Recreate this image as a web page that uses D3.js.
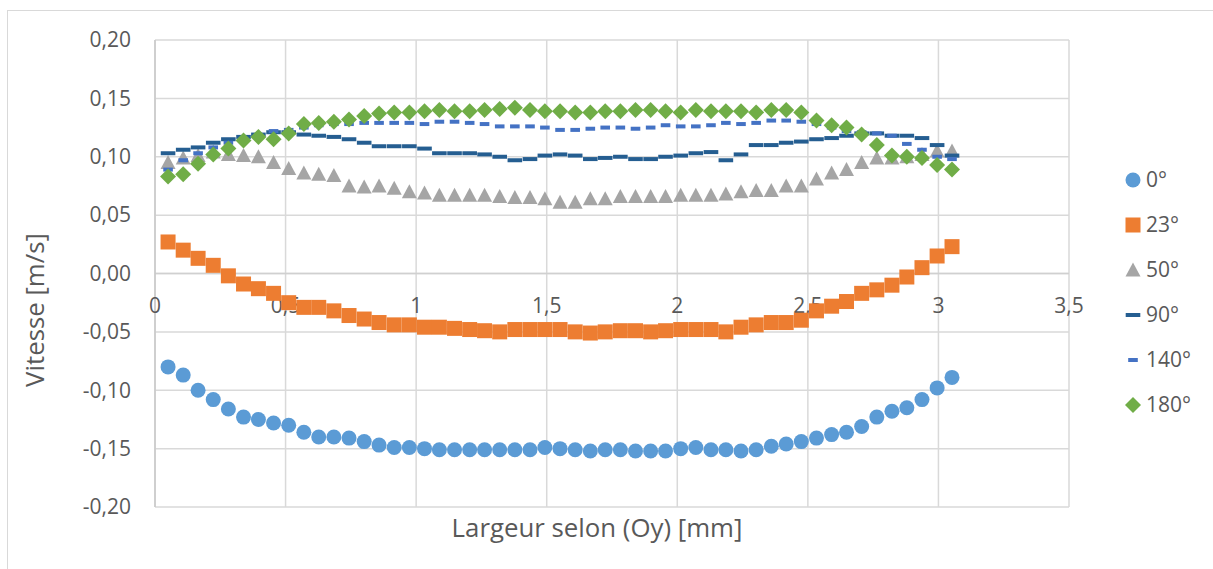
<!DOCTYPE html>
<html><head><meta charset="utf-8">
<script src="https://cdn.jsdelivr.net/npm/d3@7"></script>
<style>
html,body{margin:0;padding:0;background:#fff;}
svg{display:block;font-family:"Open Sans",sans-serif;}
</style></head>
<body>
<svg id="chart" width="1213" height="569"></svg>
<script>
// ---- data ----
const xValues = [0.050,0.108,0.165,0.223,0.281,0.339,0.396,0.454,0.512,0.570,0.627,0.685,0.743,0.801,0.858,0.916,0.974,1.032,1.089,1.147,1.205,1.262,1.320,1.378,1.436,1.493,1.551,1.609,1.667,1.724,1.782,1.840,1.898,1.955,2.013,2.071,2.129,2.186,2.244,2.302,2.360,2.417,2.475,2.533,2.591,2.648,2.706,2.764,2.822,2.879,2.937,2.995,3.052];
const s0 = [-0.080,-0.087,-0.100,-0.108,-0.116,-0.123,-0.125,-0.128,-0.130,-0.136,-0.140,-0.140,-0.141,-0.144,-0.147,-0.149,-0.149,-0.150,-0.151,-0.151,-0.151,-0.151,-0.151,-0.151,-0.151,-0.149,-0.150,-0.151,-0.152,-0.151,-0.151,-0.152,-0.152,-0.152,-0.150,-0.149,-0.151,-0.151,-0.152,-0.151,-0.148,-0.146,-0.144,-0.141,-0.138,-0.136,-0.131,-0.123,-0.118,-0.115,-0.108,-0.098,-0.089];
const s23 = [0.027,0.020,0.013,0.007,-0.002,-0.009,-0.013,-0.017,-0.025,-0.029,-0.029,-0.032,-0.036,-0.039,-0.042,-0.044,-0.044,-0.046,-0.046,-0.047,-0.048,-0.049,-0.050,-0.048,-0.048,-0.048,-0.048,-0.050,-0.051,-0.050,-0.049,-0.049,-0.050,-0.049,-0.048,-0.048,-0.048,-0.050,-0.046,-0.044,-0.042,-0.042,-0.040,-0.032,-0.028,-0.024,-0.017,-0.014,-0.010,-0.003,0.005,0.015,0.023];
const s50 = [0.095,0.099,0.101,0.104,0.102,0.101,0.100,0.095,0.090,0.086,0.085,0.084,0.075,0.074,0.075,0.073,0.070,0.069,0.067,0.067,0.067,0.067,0.066,0.065,0.065,0.064,0.061,0.061,0.064,0.064,0.066,0.066,0.066,0.066,0.067,0.067,0.067,0.068,0.070,0.071,0.071,0.075,0.075,0.081,0.086,0.089,0.095,0.099,0.099,0.100,0.102,0.105,0.105];
const s90 = [0.103,0.106,0.108,0.112,0.115,0.117,0.119,0.121,0.121,0.119,0.118,0.117,0.115,0.112,0.109,0.109,0.109,0.107,0.103,0.103,0.103,0.102,0.100,0.097,0.098,0.101,0.102,0.101,0.098,0.099,0.100,0.098,0.098,0.100,0.101,0.103,0.104,0.097,0.102,0.110,0.110,0.112,0.113,0.115,0.116,0.118,0.120,0.120,0.118,0.118,0.116,0.110,0.101];
const s140 = [0.089,0.097,0.103,0.108,0.112,0.115,0.118,0.122,0.123,0.125,0.127,0.128,0.128,0.129,0.129,0.129,0.129,0.128,0.130,0.130,0.129,0.128,0.126,0.126,0.126,0.125,0.123,0.123,0.124,0.125,0.125,0.124,0.125,0.127,0.126,0.126,0.127,0.129,0.128,0.129,0.131,0.131,0.130,0.128,0.125,0.122,0.121,0.120,0.118,0.111,0.106,0.100,0.098];
const s180 = [0.083,0.085,0.094,0.102,0.107,0.114,0.117,0.115,0.120,0.128,0.129,0.130,0.132,0.135,0.137,0.138,0.138,0.139,0.140,0.139,0.139,0.140,0.141,0.142,0.140,0.139,0.139,0.138,0.138,0.139,0.139,0.140,0.140,0.139,0.138,0.140,0.139,0.139,0.139,0.138,0.140,0.140,0.138,0.131,0.127,0.125,0.119,0.110,0.101,0.100,0.099,0.093,0.089];
const seriesNames = ["0°","23°","50°","90°","140°","180°"];
const xTickValues = [0,0.5,1,1.5,2,2.5,3,3.5];
const xTickLabels = ["0","0,5","1","1,5","2","2,5","3","3,5"];
const yTickValues = [-0.20,-0.15,-0.10,-0.05,0,0.05,0.10,0.15,0.20];
const yTickLabels = ["-0,20","-0,15","-0,10","-0,05","0,00","0,05","0,10","0,15","0,20"];
const xTitle = "Largeur selon (Oy) [mm]";
const yTitle = "Vitesse [m/s]";

// ---- layout ----
const svg = d3.select("#chart");
const L = 155, R = 1069, T = 40, B = 507;
const x = d3.scaleLinear().domain([0,3.5]).range([L,R]);
const y = d3.scaleLinear().domain([-0.2,0.2]).range([B,T]);
const textColor = "#595959";
const gridColor = "#D9D9D9";

// outer frame
svg.append("rect").attr("x",7.5).attr("y",10.5).attr("width",1220).attr("height",570)
  .attr("fill","none").attr("stroke",gridColor).attr("stroke-width",1);

// gridlines
svg.append("g").selectAll("line").data(yTickValues).join("line")
  .attr("x1",L).attr("x2",R).attr("y1",d=>y(d)).attr("y2",d=>y(d))
  .attr("stroke",gridColor).attr("stroke-width",1.5);
svg.append("g").selectAll("line").data(xTickValues).join("line")
  .attr("x1",d=>x(d)).attr("x2",d=>x(d)).attr("y1",T).attr("y2",B)
  .attr("stroke",gridColor).attr("stroke-width",1.5);
// zero axis line
svg.append("line").attr("x1",L).attr("x2",R).attr("y1",y(0)).attr("y2",y(0))
  .attr("stroke","#D0D0D0").attr("stroke-width",1.5);
svg.append("line").attr("x1",L).attr("x2",L).attr("y1",T).attr("y2",B)
  .attr("stroke","#C8C8C8").attr("stroke-width",1.5);

// y tick labels
svg.append("g").selectAll("text").data(yTickValues).join("text")
  .attr("x",131).attr("y",d=>y(d)).attr("dy","0.35em")
  .attr("text-anchor","end").attr("fill",textColor).attr("font-size",21)
  .text((d,i)=>yTickLabels[i]);
// x tick labels
svg.append("g").selectAll("text").data(xTickValues).join("text")
  .attr("x",d=>x(d)).attr("y",y(0)+32).attr("dy","0.35em")
  .attr("text-anchor","middle").attr("fill",textColor).attr("font-size",21)
  .text((d,i)=>xTickLabels[i]);

// axis titles
svg.append("text").attr("x",597).attr("y",537).attr("text-anchor","middle")
  .attr("fill",textColor).attr("font-size",25.8).text(xTitle);
svg.append("text").attr("transform",`translate(44,310) rotate(-90)`)
  .attr("text-anchor","middle").attr("fill",textColor).attr("font-size",25.8).text(yTitle);

// marker drawers
const colors = ["#5B9BD5","#ED7D31","#A5A5A5","#255E91","#4472C4","#70AD47"];
function drawMarker(g, kind, color){
  if(kind===0) g.append("circle").attr("r",7.5).attr("fill",color);
  else if(kind===1) g.append("rect").attr("x",-7.5).attr("y",-7.5).attr("width",15).attr("height",15).attr("fill",color);
  else if(kind===2) g.append("path").attr("d","M0,-7.5 L7.5,6.5 L-7.5,6.5 Z").attr("fill",color);
  else if(kind===3) g.append("rect").attr("x",-7.3).attr("y",-2).attr("width",14.6).attr("height",4).attr("fill",color);
  else if(kind===4) g.append("rect").attr("x",-4.8).attr("y",-2).attr("width",9.6).attr("height",4).attr("fill",color);
  else if(kind===5) g.append("path").attr("d","M0,-8 L8,0 L0,8 L-8,0 Z").attr("fill",color);
}
const allSeries = [s0,s23,s50,s90,s140,s180];
allSeries.forEach((vals,k)=>{
  const g = svg.append("g");
  vals.forEach((v,i)=>{
    const m = g.append("g").attr("transform",`translate(${x(xValues[i])},${y(v)})`);
    drawMarker(m,k,colors[k]);
  });
});

// legend
const legY = [180,225,270,315,360,405];
seriesNames.forEach((name,k)=>{
  const m = svg.append("g").attr("transform",`translate(1133,${legY[k]})`);
  drawMarker(m,k,colors[k]);
  svg.append("text").attr("x",1146).attr("y",legY[k]).attr("dy","0.35em")
    .attr("fill",textColor).attr("font-size",21).text(name);
});
</script>
</body></html>
